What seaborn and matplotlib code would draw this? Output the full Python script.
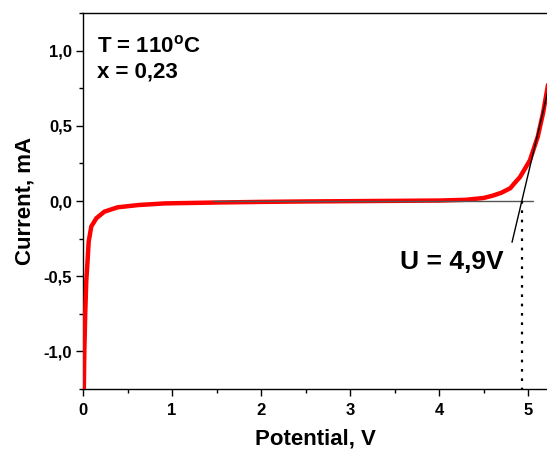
import pandas as pd
import seaborn as sns
import matplotlib.pyplot as plt
from matplotlib.ticker import MultipleLocator, FuncFormatter

# I-V curve (potential in V, current in mA)
potential = [0.008, 0.015, 0.025, 0.037, 0.048, 0.064, 0.093, 0.15, 0.24, 0.39,
             0.62, 0.92, 1.5, 2.0, 2.5, 3.0, 3.5, 4.0, 4.3, 4.5,
             4.6, 4.7, 4.8, 4.85, 4.91, 5.02, 5.11, 5.17, 5.22, 5.25]
current = [-1.3, -1.0, -0.75, -0.53, -0.43, -0.27, -0.17, -0.115, -0.071, -0.042,
           -0.027, -0.016, -0.01, -0.006, -0.003, -0.001, 0.001, 0.003, 0.008, 0.02,
           0.035, 0.055, 0.085, 0.12, 0.16, 0.27, 0.43, 0.59, 0.76, 0.86]

# baseline and tangent used to find the onset potential
base_v = [1.46, 5.06]
base_i = [0.0, 0.0]
tangent_v = [4.82, 5.25]
tangent_i = [-0.275, 0.80]
onset_v = 4.93

sns.set_theme(style="ticks")
plt.rcParams['font.family'] = ['Liberation Sans', 'DejaVu Sans']
plt.rcParams['font.weight'] = 'bold'
plt.rcParams['text.color'] = 'black'
plt.rcParams['axes.labelcolor'] = 'black'
plt.rcParams['xtick.color'] = 'black'
plt.rcParams['ytick.color'] = 'black'
plt.rcParams['mathtext.fontset'] = 'custom'
plt.rcParams['mathtext.bf'] = 'Liberation Sans:bold'
plt.rcParams['mathtext.rm'] = 'Liberation Sans:bold'

fig = plt.figure(figsize=(5.47, 4.57), dpi=100)
ax = fig.add_axes([83 / 547, 68 / 457, 464 / 547, 376 / 457])

df = pd.DataFrame({"Potential": potential, "Current": current})
sns.lineplot(data=df, x="Potential", y="Current", color="#ff0000", lw=3.2,
             ax=ax, zorder=3, sort=False)
ax.plot(base_v, base_i, color="#555555", lw=1.0, zorder=4)
ax.plot(tangent_v, tangent_i, color="black", lw=1.0, zorder=4)
ax.plot([onset_v, onset_v], [0.0, -1.3], color="black", lw=1.6,
        ls=(0, (1.2, 3.0)), zorder=4)

ax.set_xlim(0, 5.213)
ax.set_ylim(-1.253, 1.253)
ax.xaxis.set_major_locator(MultipleLocator(1))
ax.xaxis.set_minor_locator(MultipleLocator(0.5))
ax.yaxis.set_major_locator(MultipleLocator(0.5))
ax.yaxis.set_minor_locator(MultipleLocator(0.25))
ax.yaxis.set_major_formatter(FuncFormatter(lambda v, p: f"{v:.1f}".replace(".", ",")))
ax.xaxis.set_major_formatter(FuncFormatter(lambda v, p: f"{v:.0f}"))

ax.tick_params(which="major", direction="out", length=5, width=1.0,
               labelsize=12, pad=3, color="black", labelcolor="black")
ax.tick_params(which="minor", direction="out", length=3, width=1.0, color="black")
ax.tick_params(axis="x", which="major", pad=5)
for lab in ax.get_xticklabels() + ax.get_yticklabels():
    lab.set_fontweight("bold")

for side in ["left", "bottom", "top"]:
    ax.spines[side].set_visible(True)
    ax.spines[side].set_color("black")
    ax.spines[side].set_linewidth(1.0)
ax.spines["right"].set_visible(False)

ax.set_xlabel("Potential, V", fontsize=16, fontweight="bold", labelpad=8, color="black")
ax.set_ylabel("Current, mA", fontsize=16, fontweight="bold", labelpad=6, color="black")

ax.text(0.16, 0.99, r"T = 110$^{\mathbf{o}}$C", fontsize=16, fontweight="bold",
        va="baseline", ha="left", color="black")
ax.text(0.16, 0.82, "x = 0,23", fontsize=16, fontweight="bold",
        va="baseline", ha="left", color="black")
ax.text(3.56, -0.45, "U = 4,9V", fontsize=19, fontweight="bold",
        va="baseline", ha="left", color="black")

fig.savefig("out.png", dpi=100)
